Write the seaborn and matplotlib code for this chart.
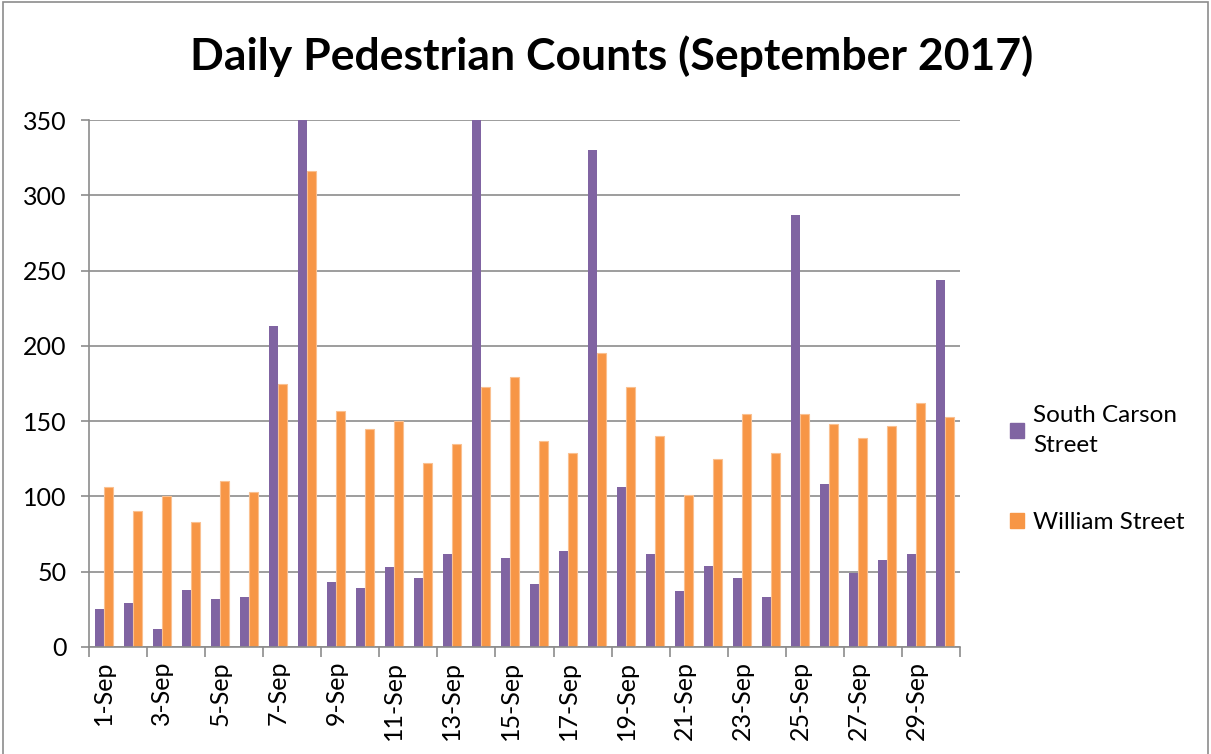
import matplotlib
matplotlib.use("Agg")
import matplotlib.pyplot as plt
import numpy as np
import pandas as pd
import seaborn as sns
from matplotlib.patches import Rectangle

# ── Data ─────────────────────────────────────────────────────────────
days = [f"{d}-Sep" for d in range(1, 31)]
south_carson = [25, 29, 12, 38, 32, 33, 213, 350, 43, 39,
                53, 46, 62, 350, 59, 42, 64, 330, 106, 62,
                37, 54, 46, 33, 287, 108, 49, 58, 62, 244]
william = [106, 90, 100, 83, 110, 103, 175, 316, 157, 145,
           150, 122, 135, 173, 179, 137, 129, 195, 173, 140,
           101, 125, 155, 129, 155, 148, 139, 147, 162, 153]
series_names = ["South Carson Street", "William Street"]
legend_labels = ["South Carson\nStreet", "William Street"]
colors = {"South Carson Street": "#8064A2", "William Street": "#F79646"}

df = pd.DataFrame({
    "Day": days * 2,
    "Count": south_carson + william,
    "Street": [series_names[0]] * len(days) + [series_names[1]] * len(days),
})

# ── Theme ────────────────────────────────────────────────────────────
sns.set_theme(style="white")
plt.rcParams["font.family"] = ["Lato", "DejaVu Sans"]
plt.rcParams.update({
    "text.color": "black",
    "xtick.color": "black",
    "ytick.color": "black",
    "xtick.labelcolor": "black",
    "ytick.labelcolor": "black",
})

fig = plt.figure(figsize=(12.11, 7.54), dpi=100)
ax = fig.add_axes([89 / 1211, 107 / 754, 871 / 1211, 527 / 754])

sns.barplot(
    data=df, x="Day", y="Count", hue="Street", order=days,
    hue_order=series_names, palette=colors, width=0.62, saturation=1,
    linewidth=0, ax=ax, legend=False,
)

# light outline on orange bars, as in the original
for patch in ax.patches[len(days):]:
    patch.set_edgecolor("#FAC090")
    patch.set_linewidth(0.8)

ax.set_xlim(-0.5, len(days) - 0.5)
ax.set_ylim(0, 350)
ax.set_yticks(np.arange(0, 351, 50))
ax.yaxis.grid(True, color="#8C8C8C", linewidth=1.2)
ax.set_axisbelow(True)

# x labels on every second day, tick marks between categories
ax.set_xticks(np.arange(0, len(days), 2))
ax.set_xticklabels(days[::2], rotation=90, fontsize=18)
ax.set_xticks(np.arange(-0.5, len(days), 2), minor=True)
ax.tick_params(axis="x", which="major", length=0, pad=10)
ax.tick_params(axis="x", which="minor", length=7, width=1.2, color="#8C8C8C",
               direction="out", bottom=True)
ax.tick_params(axis="y", length=6, width=1.2, color="#8C8C8C", labelsize=18,
               left=True, pad=10)

for side in ["top", "right"]:
    ax.spines[side].set_visible(False)
for side in ["left", "bottom"]:
    ax.spines[side].set_color("#8C8C8C")
    ax.spines[side].set_linewidth(1.2)

ax.set_xlabel("")
ax.set_ylabel("")

fig.text(0.505, 0.926, "Daily Pedestrian Counts (September 2017)",
         ha="center", va="center", fontsize=32, fontweight="bold",
         color="black")

handles = [Rectangle((0, 0), 1, 1, color=colors[s]) for s in series_names]
leg = fig.legend(handles, legend_labels, loc="center left",
                 bbox_to_anchor=(988 / 1211, 0.378), frameon=False,
                 fontsize=17.5, handlelength=0.6, handleheight=0.6,
                 handletextpad=0.35, labelspacing=2.3)
for t in leg.get_texts():
    t.set_linespacing(1.55)

# outer chart border
fig.patches.append(Rectangle((3 / 1211, -0.01), 1205 / 1211, 1.007,
                             transform=fig.transFigure, fill=False,
                             edgecolor="#8C8C8C", linewidth=1.2))

fig.savefig("out.png", dpi=100)
plt.close(fig)
